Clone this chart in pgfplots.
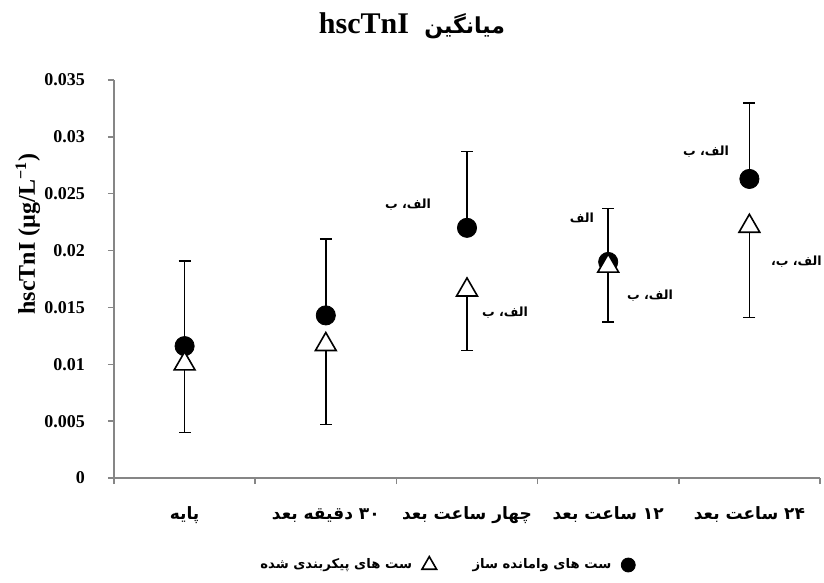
\documentclass[border=0pt]{standalone}
\usepackage{fontspec}
\setmainfont{Liberation Serif}
\newfontfamily\arabicfont[Script=Arabic]{DejaVu Sans}
\TeXXeTstate=1
\usepackage{pgfplots}
\pgfplotsset{compat=1.18}
\definecolor{axgray}{RGB}{134,134,134}

\begin{document}
\begin{tikzpicture}
\useasboundingbox (-57pt,-52.5pt) rectangle (355pt,239pt);
\begin{axis}[
  at={(0,0)}, anchor=south west,
  scale only axis, width=353pt, height=199pt,
  xmin=-0.5, xmax=4.5, ymin=0, ymax=0.035,
  axis lines*=left,
  axis line style={draw=axgray, line width=0.7pt},
  clip=false,
  tick align=outside,
  xtick={0,1,2,3,4},
  xticklabels={{\beginR پایه\endR},
               {\beginR\beginL ۳۰\endL{} دقیقه بعد\endR},
               {\beginR چهار ساعت بعد\endR},
               {\beginR\beginL ۱۲\endL{} ساعت بعد\endR},
               {\beginR\beginL ۲۴\endL{} ساعت بعد\endR}},
  major x tick style={draw=none},
  minor xtick={-0.5,0.5,1.5,2.5,3.5,4.5},
  minor x tick style={draw=axgray, line width=0.7pt},
  minor tick length=3pt,
  major tick length=3pt,
  xticklabel style={font=\arabicfont\bfseries\fontsize{8.5}{10}\selectfont, text height=7pt, text depth=2.5pt, yshift=-7pt},
  ytick={0,0.005,0.01,0.015,0.02,0.025,0.03,0.035},
  yticklabels={0,0.005,0.01,0.015,0.02,0.025,0.03,0.035},
  scaled y ticks=false,
  y tick style={draw=axgray, line width=0.7pt},
  yticklabel style={font=\bfseries\fontsize{9}{10}\selectfont, xshift=-8pt},
  ylabel={\bfseries hscTnI (µg/L\textsuperscript{−1})},
  ylabel style={at={(axis description cs:-0.122,0.613)}, anchor=center, font=\bfseries\fontsize{12}{14}\selectfont},
  title={\arabicfont\bfseries\fontsize{11}{13}\selectfont\beginR میانگین\ \ \beginL{\rmfamily\fontsize{15}{17}\selectfont hscTnI}\endL\endR},
  title style={at={(axis description cs:0.422,1.105)}, anchor=center},
  legend style={draw=none, fill=none, at={(axis description cs:0.470,-0.2186)}, anchor=center,
    font=\arabicfont\bfseries\fontsize{6.6}{8}\selectfont,
    /tikz/every even column/.append style={column sep=16pt},
    /tikz/every odd column/.append style={column sep=3pt}},
  legend columns=2,
  legend plot pos=right,
  reverse legend,
]
% circle series: error bars upward
\addplot[forget plot, only marks, mark=*, mark size=4.8pt, mark options={fill=black, draw=black},
  error bars/.cd, y dir=plus, y explicit,
  error bar style={black, line width=0.8pt},
  error mark options={rotate=90, black, line width=0.8pt, mark size=3pt}]
  table[x=x, y=y, y error=e] {
  x y e
  0 0.0116 0.0075
  1 0.0143 0.0067
  2 0.0220 0.0067
  3 0.0190 0.0047
  4 0.0263 0.0067
  };
% triangle series: error bars downward
\addplot[forget plot, only marks, mark=triangle*, mark size=6pt, mark options={fill=white, draw=black, line width=0.8pt, yshift=-1.5pt},
  error bars/.cd, y dir=minus, y explicit,
  error bar style={black, line width=0.8pt},
  error mark options={rotate=90, black, line width=0.8pt, mark size=3pt}]
  table[x=x, y=y, y error=e] {
  x y e
  0 0.0103 0.0063
  1 0.0120 0.0073
  2 0.0168 0.0056
  3 0.0189 0.0052
  4 0.0224 0.0083
  };
\addlegendimage{only marks, mark=*, mark size=3.5pt, mark options={fill=black, draw=black}}
\addlegendentry{\beginR ست های وامانده ساز\endR}
\addlegendimage{only marks, mark=triangle*, mark size=4.2pt, mark options={fill=white, draw=black, line width=0.8pt}}
\addlegendentry{\beginR ست های پیکربندی شده\endR}

\tikzset{ann/.style={font=\arabicfont\bfseries\fontsize{6.3}{8}\selectfont}}
\node[ann] at (axis cs:1.582,0.0240) {\beginR الف، ب\endR};
\node[ann] at (axis cs:2.269,0.01451) {\beginR الف، ب\endR};
\node[ann] at (axis cs:2.814,0.02287) {\beginR الف\endR};
\node[ann] at (axis cs:3.296,0.01601) {\beginR الف، ب\endR};
\node[ann] at (axis cs:3.693,0.02867) {\beginR الف، ب\endR};
\node[ann, anchor=east, inner xsep=0pt] at (axis cs:4.515,0.0190) {\beginR الف، ب،\endR};
\end{axis}
\end{tikzpicture}
\end{document}
